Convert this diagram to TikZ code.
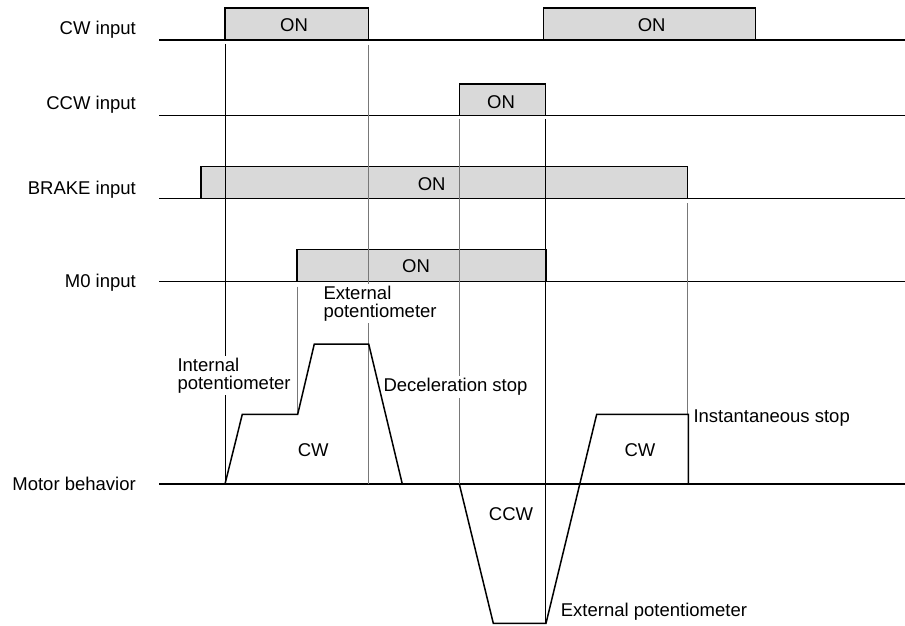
\documentclass[tikz,border=0pt]{standalone}
\usepackage{fontspec}
\setmainfont{Liberation Sans}
\definecolor{boxgray}{RGB}{217,217,217}
\definecolor{vgray}{RGB}{120,120,120}
\begin{document}
\begin{tikzpicture}[x=1pt,y=-1pt,
  txt/.style={font=\fontsize{18.5}{17.7}\selectfont, inner sep=0pt},
  wtxt/.style={txt, fill=white, inner xsep=0pt, inner ysep=2pt, align=left},
  sigline/.style={line width=1.3pt},
  onbox/.style={line width=1.3pt, line join=miter},
  vblack/.style={line width=0.8pt, draw=black},
  vgrey/.style={line width=0.8pt, draw=vgray},
  prof/.style={line width=1.5pt, line join=miter}]
\useasboundingbox (0,0) rectangle (905,626);

% signal labels
\node[txt, anchor=base east] (lcw)    at (136,35)    {CW input};
\node[txt, anchor=base east] (lccw)   at (136,110)   {CCW input};
\node[txt, anchor=base east] (lbrake) at (136,194)   {BRAKE input};
\node[txt, anchor=base east] (lm0)    at (136,287)   {M0 input};
\node[txt, anchor=base east] (lmot)   at (136,490)   {Motor behavior};

% ON boxes (fill)
\fill[boxgray] (225,40) rectangle (368.7,8);
\fill[boxgray] (543.7,40) rectangle (755.3,8);
\fill[boxgray] (459.3,115.7) rectangle (545.3,84);
\fill[boxgray] (201,198.7) rectangle (687.7,166.7);
\fill[boxgray] (297,281.7) rectangle (546,249.3);

% baselines
\coordinate (cwS) at (159,40);    \coordinate (cwE) at (905,40);
\coordinate (ccwS) at (159,115.7); \coordinate (ccwE) at (905,115.7);
\coordinate (brS) at (159,198.7); \coordinate (brE) at (905,198.7);
\coordinate (m0S) at (159,281.7); \coordinate (m0E) at (905,281.7);
\coordinate (moS) at (159,484);   \coordinate (moE) at (905,484);
\draw[sigline] (cwS) -- (cwE);
\draw[sigline] (ccwS) -- (ccwE);
\draw[sigline] (brS) -- (brE);
\draw[sigline] (m0S) -- (m0E);
\draw[sigline] (moS) -- (moE);

% box outlines
\draw[onbox] (225,40) -- (225,8) -- (368.7,8) -- (368.7,40);
\draw[onbox] (543.7,40) -- (543.7,8) -- (755.3,8) -- (755.3,40);
\draw[onbox] (459.3,115.7) -- (459.3,84) -- (545.3,84) -- (545.3,115.7);
\draw[onbox] (201,198.7) -- (201,166.7) -- (687.7,166.7) -- (687.7,198.7);
\draw[onbox] (297,281.7) -- (297,249.3) -- (546,249.3) -- (546,281.7);

% ON texts
\node[txt, anchor=base] (on1) at (294,31.7)   {ON};
\node[txt, anchor=base] (on2) at (651.7,31.7) {ON};
\node[txt, anchor=base] (on3) at (501,108.3)  {ON};
\node[txt, anchor=base] (on4) at (431.7,190.7) {ON};
\node[txt, anchor=base] (on5) at (416,272.7)  {ON};

% vertical timing lines
\draw[vblack] (225,44) -- (225,484);
\draw[vgrey]  (297,286.7) -- (297,414.3);
\draw[vgrey]  (368.7,45) -- (368.7,484);
\draw[vgrey]  (459.3,119.3) -- (459.3,484);
\draw[vblack] (545.3,119.3) -- (545.3,623.3);
\draw[vgrey]  (687.7,203) -- (687.7,414.3);

% motor labels
\node[wtxt, anchor=base west] (lext1) at (323.3,317.3) {External\\potentiometer};
\node[wtxt, anchor=base west] (lint)  at (177.3,389.3) {Internal\\potentiometer};
\node[wtxt, anchor=base west] (ldec)  at (383.3,391.7) {Deceleration stop};
\node[txt, anchor=base west]  (linst) at (693.3,422.7) {Instantaneous stop};
\node[txt, anchor=base west]  (lext2) at (560.7,616)   {External potentiometer};
\node[txt, anchor=base] (lcw1)  at (313.3,456.7) {CW};
\node[txt, anchor=base] (lccw1) at (511,520)     {CCW};
\node[txt, anchor=base] (lcw2)  at (640,456.7)   {CW};

% motor profiles
\draw[prof] (225,484) -- (242.3,414.3) -- (297.7,414.3) -- (314.3,344)
  -- (368.7,344) -- (402.3,484);
\draw[prof] (459.3,484) -- (493.3,623.3) -- (546,623.3) -- (596.7,414.3)
  -- (688.3,414.3) -- (688.3,484);
\end{tikzpicture}
\end{document}
